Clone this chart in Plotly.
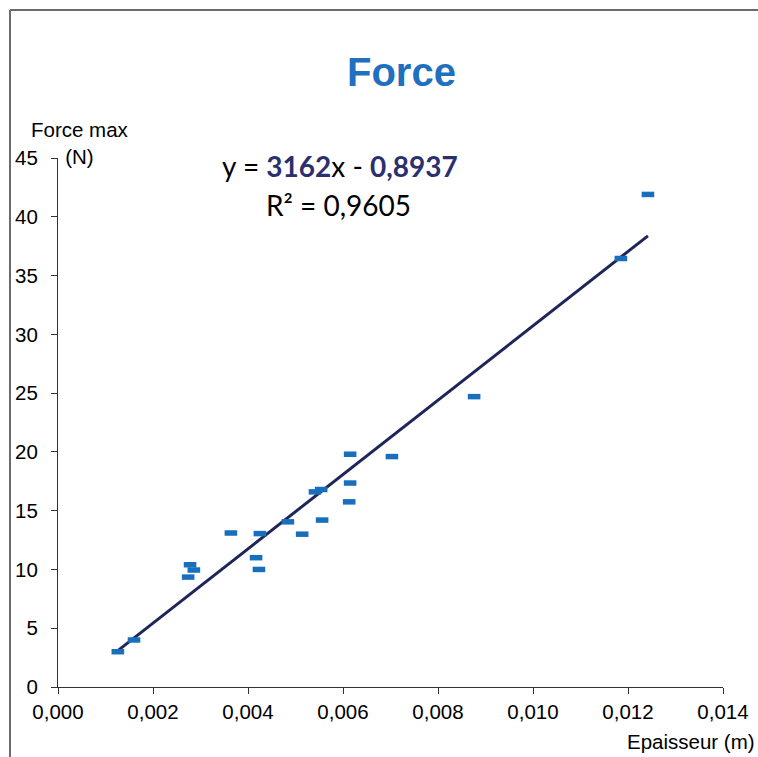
import plotly.graph_objects as go

# Data
epaisseur = [0.00126, 0.00160, 0.00274, 0.00278, 0.00286, 0.00364, 0.00417, 0.00423,
             0.00425, 0.00484, 0.00514, 0.00541, 0.00554, 0.00556, 0.00613, 0.00615,
             0.00615, 0.00703, 0.00876, 0.01185, 0.01242]
force_max = [3.0, 4.0, 9.35, 10.4, 9.95, 13.1, 11.0, 10.0,
             13.05, 14.05, 13.0, 16.6, 16.8, 14.2, 15.75, 17.35,
             19.8, 19.6, 24.7, 36.45, 41.9]
slope = 3162.0
intercept = -0.8937
r2 = "0,9605"
x_ticks = [0.000, 0.002, 0.004, 0.006, 0.008, 0.010, 0.012, 0.014]
y_ticks = [0, 5, 10, 15, 20, 25, 30, 35, 40, 45]

W, H = 758, 757
L, R, T, B = 58, 35, 158, 70
pw, ph = W - L - R, H - T - B

def px(x):
    return (x - L) / pw

def py(y):
    return (H - B - y) / ph

fig = go.Figure()

xs = [min(epaisseur), max(epaisseur)]
fig.add_trace(go.Scatter(
    x=xs, y=[slope * v + intercept for v in xs], mode="lines",
    line=dict(color="#1f2559", width=3), hoverinfo="skip", showlegend=False))

fig.add_trace(go.Scatter(
    x=epaisseur, y=force_max, mode="markers",
    marker=dict(symbol="line-ew", size=9, line=dict(color="#1a6fbd", width=5.5)),
    showlegend=False))

fig.update_layout(
    width=W, height=H,
    margin=dict(l=L, r=R, t=T, b=B, autoexpand=False),
    paper_bgcolor="white", plot_bgcolor="white",
    separators=", ",
    font=dict(family="Liberation Sans, Arial, sans-serif", size=20, color="black"),
    showlegend=False,
)
fig.update_xaxes(
    range=[0, 0.014], tickvals=x_ticks, tickformat=".3f", automargin=False,
    showgrid=False, zeroline=False,
    showline=True, linecolor="#333333", linewidth=1,
    ticks="outside", ticklen=6, tickcolor="#333333",
    tickfont=dict(size=20.5), fixedrange=True,
)
fig.update_yaxes(
    range=[0, 45], tickvals=y_ticks, automargin=False,
    showgrid=False, zeroline=False,
    showline=True, linecolor="#333333", linewidth=1,
    ticks="outside", ticklen=6, tickcolor="#333333",
    tickfont=dict(size=20.5), ticklabelstandoff=9, fixedrange=True,
)

# Border lines (top and left)
fig.add_shape(type="line", xref="paper", yref="paper",
              x0=px(10), x1=px(W + 5), y0=py(10), y1=py(10),
              line=dict(color="#6b6b6b", width=2))
fig.add_shape(type="line", xref="paper", yref="paper",
              x0=px(10), x1=px(10), y0=py(10), y1=py(H + 5),
              line=dict(color="#6b6b6b", width=2))

def note(text, x, y, size, family="Liberation Sans, Arial, sans-serif", color="black",
         xanchor="center"):
    fig.add_annotation(text=text, xref="paper", yref="paper", x=px(x), y=py(y),
                       xanchor=xanchor, yanchor="middle", showarrow=False, align="center",
                       borderpad=0, font=dict(family=family, size=size, color=color))

# Title
note("<b>Force</b>", 401, 72, 40, color="#1f70bf")

# Axis titles
note("Force max<br>(N)", 80, 143, 20.5)
note("Epaisseur (m)", 756, 742, 20.5, xanchor="right")

# Trendline equation
navy = "#2b2f6e"
eq = (f"y = <b><span style='color:{navy}'>{int(slope)}</span></b>x - "
      f"<b><span style='color:{navy}'>{str(abs(intercept)).replace('.', ',')}</span></b>")
note(eq, 340, 166, 28, family="Lato, Open Sans, sans-serif")
note(f"R² = {r2}", 338, 205, 28, family="Lato, Open Sans, sans-serif")

fig.write_html("out.html", config={"displayModeBar": False},
               post_script="document.body.style.margin='0';document.body.style.overflow='hidden';")
